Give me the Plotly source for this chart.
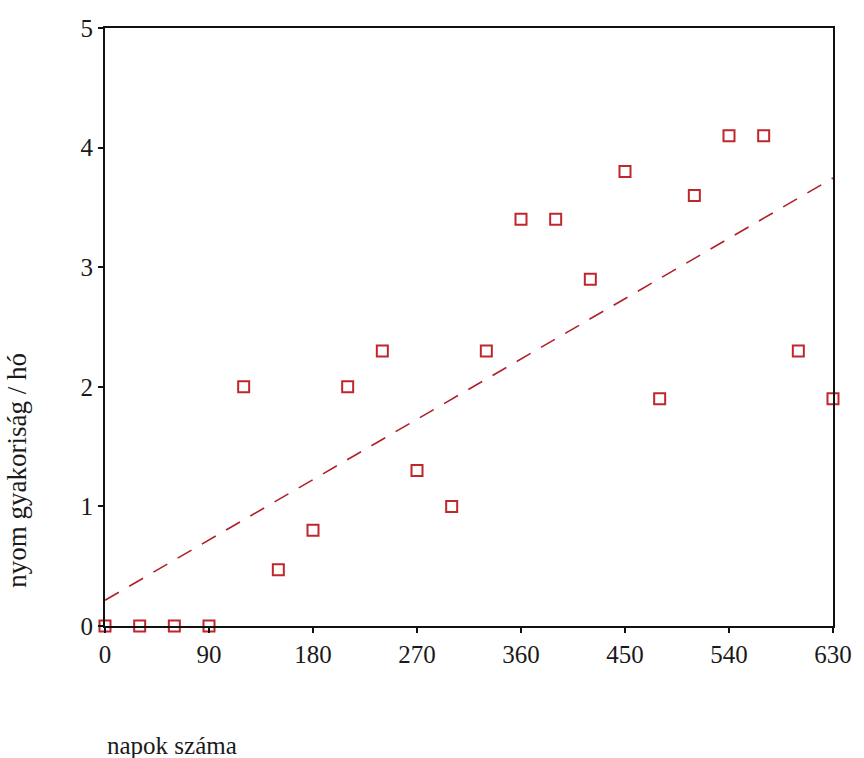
import numpy as np
import plotly.graph_objects as go

days = [0, 30, 60, 90, 120, 150, 180, 210, 240, 270, 300, 330, 360, 390, 420, 450, 480, 510, 540, 570, 600, 630]
freq = [0, 0, 0, 0, 2.0, 0.47, 0.8, 2.0, 2.3, 1.3, 1.0, 2.3, 3.4, 3.4, 2.9, 3.8, 1.9, 3.6, 4.1, 4.1, 2.3, 1.9]
x_ticks = [0, 90, 180, 270, 360, 450, 540, 630]
y_ticks = [0, 1, 2, 3, 4, 5]
x_title = "napok száma"
y_title = "nyom gyakoriság / hó"

slope, intercept = np.polyfit(days, freq, 1)
fit_x = [min(days), max(days)]
fit_y = [intercept + slope * v for v in fit_x]

RED = "#c0272d"
FONT = "Liberation Serif, Times New Roman, serif"
TXT = "#1a1a1a"

fig = go.Figure()
fig.add_trace(go.Scatter(
    x=fit_x, y=fit_y, mode="lines",
    line=dict(color="#b0202a", width=1.6, dash="16px,12px"),
    hoverinfo="skip", cliponaxis=False,
))
fig.add_trace(go.Scatter(
    x=days, y=freq, mode="markers",
    marker=dict(symbol="square-open", size=11, color=RED, line=dict(width=2, color=RED)),
    cliponaxis=False,
))

fig.update_layout(
    width=864, height=758,
    margin=dict(l=105, r=22, t=28, b=132),
    paper_bgcolor="white", plot_bgcolor="white",
    showlegend=False,
    font=dict(family=FONT, size=25, color=TXT),
)
axis_common = dict(
    showline=True, linecolor="#111111", linewidth=2, mirror=True,
    ticks="outside", ticklen=5, tickcolor="#111111", tickwidth=2,
    showgrid=False, zeroline=False,
    tickfont=dict(family=FONT, size=25, color=TXT),
)
fig.update_xaxes(range=[0, 630], tickvals=x_ticks, ticktext=[str(v) for v in x_ticks], **axis_common)
fig.update_yaxes(range=[0, 5], tickvals=y_ticks, ticktext=[str(v) for v in y_ticks], **axis_common)
fig.add_annotation(
    text=y_title, xref="paper", yref="paper", x=-0.122, y=0.26,
    xanchor="center", yanchor="middle", textangle=-90, showarrow=False,
    font=dict(family=FONT, size=27, color=TXT),
)
fig.add_annotation(
    text=x_title, xref="paper", yref="paper", x=0.0, y=-0.2,
    xanchor="left", yanchor="middle", showarrow=False,
    font=dict(family=FONT, size=25, color=TXT),
)

fig.write_html("out.html")
